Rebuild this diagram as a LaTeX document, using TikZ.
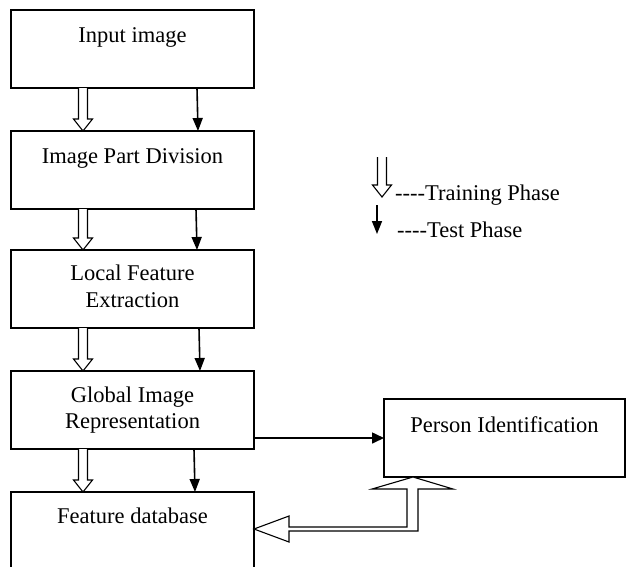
\documentclass[tikz,border=0pt]{standalone}
\usepackage{fontspec}
\setmainfont{Liberation Serif}
\usetikzlibrary{arrows.meta,calc}
\newcommand{\hollowdown}[2]{%
  \draw[hollowstyle] let \p1=(#1), \p2=(#2) in
    (\x1-4.5pt,\y1) -- (\x1-4.5pt,\y2+12pt) -- (\x1-9.5pt,\y2+12pt) -- (\x1,\y2)
    -- (\x1+9.5pt,\y2+12pt) -- (\x1+4.5pt,\y2+12pt) -- (\x1+4.5pt,\y1);}
\newcommand{\fourdash}{\mbox{-}\mbox{-}\mbox{-}\mbox{-}}
\begin{document}
\begin{tikzpicture}[x=1pt,y=-1pt,
  box/.style={draw,line width=1.6pt,outer sep=0pt,inner sep=0pt,minimum width=243pt,minimum height=78pt},
  txt/.style={inner sep=0pt,align=center,font=\fontsize{22.5}{27}\selectfont},
  hollowstyle/.style={draw,line width=1.1pt,fill=white,line join=miter},
  solidarrow/.style={line width=1.6pt,-{Triangle[length=13pt,width=10pt]}},
  rightarrow/.style={line width=1.6pt,-{Triangle[length=12pt,width=11pt]}}]
\useasboundingbox (0,0) rectangle (626,566);
% boxes
\node[box] (b1) at (132.5,49) {};
\node[box] (b2) at (132.5,170) {};
\node[box] (b3) at (132.5,289) {};
\node[box] (b4) at (132.5,410) {};
\node[box] (b5) at (132.5,531) {};
\node[box,minimum width=241pt] (pi) at (504.5,438) {};
% texts
\node[txt,anchor=base] (t1) at (132.5,42) {Input image};
\node[txt,anchor=base] (t2) at (132.5,163) {Image Part Division};
\node[txt,anchor=base] (t3a) at (132.5,280) {Local Feature};
\node[txt,anchor=base] (t3b) at (132.5,307) {Extraction};
\node[txt,anchor=base] (t4a) at (132.5,402) {Global Image};
\node[txt,anchor=base] (t4b) at (132.5,428) {Representation};
\node[txt,anchor=base] (t5) at (132.5,523) {Feature database};
\node[txt,anchor=base] (t6) at (504.5,432) {Person Identification};
% hollow (training) arrows
\hollowdown{$(b1.south west)+(72,0)$}{$(b2.north west)+(72,0)$}
\hollowdown{$(b2.south west)+(72,0)$}{$(b3.north west)+(72,0)$}
\hollowdown{$(b3.south west)+(72,0)$}{$(b4.north west)+(72,0)$}
\hollowdown{$(b4.south west)+(72,0)$}{$(b5.north west)+(72,0)$}
% solid (test) arrows
\draw[solidarrow] ($(b1.south west)+(186,0)$) -- ($(b2.north west)+(187,0)$);
\draw[solidarrow] ($(b2.south west)+(185,0)$) -- ($(b3.north west)+(186,0)$);
\draw[solidarrow] ($(b3.south west)+(188,0)$) -- ($(b4.north west)+(189,0)$);
\draw[solidarrow] ($(b4.south west)+(183,0)$) -- ($(b5.north west)+(184,0)$);
% to person identification
\draw[rightarrow] (b4.east |- pi.west) -- (pi.west);
% bent hollow arrow
\coordinate (up) at ($(pi.south west)+(29,0)$);
\coordinate (lt) at ($(b5.east)+(0,-2)$);
\draw[hollowstyle] (up) -- ++(40,12) -- ++(-35,0) -- (418,531) -- (289,531) -- ++(0,11)
  -- (lt) -- (289,516) -- ++(0,11) -- (407,527) -- (407,489) -- ++(-35,0) -- cycle;
% legend
\coordinate (lh) at (382,157);
\coordinate (lhe) at (382,197);
\hollowdown{lh}{lhe}
\coordinate (ls) at (377,205);
\coordinate (lse) at (377,234);
\draw[solidarrow] (ls) -- (lse);
\node[txt,anchor=base west] (l1) at (395,200) {\fourdash Training Phase};
\node[txt,anchor=base west] (l2) at (397,237) {\fourdash Test Phase};
\end{tikzpicture}
\end{document}
